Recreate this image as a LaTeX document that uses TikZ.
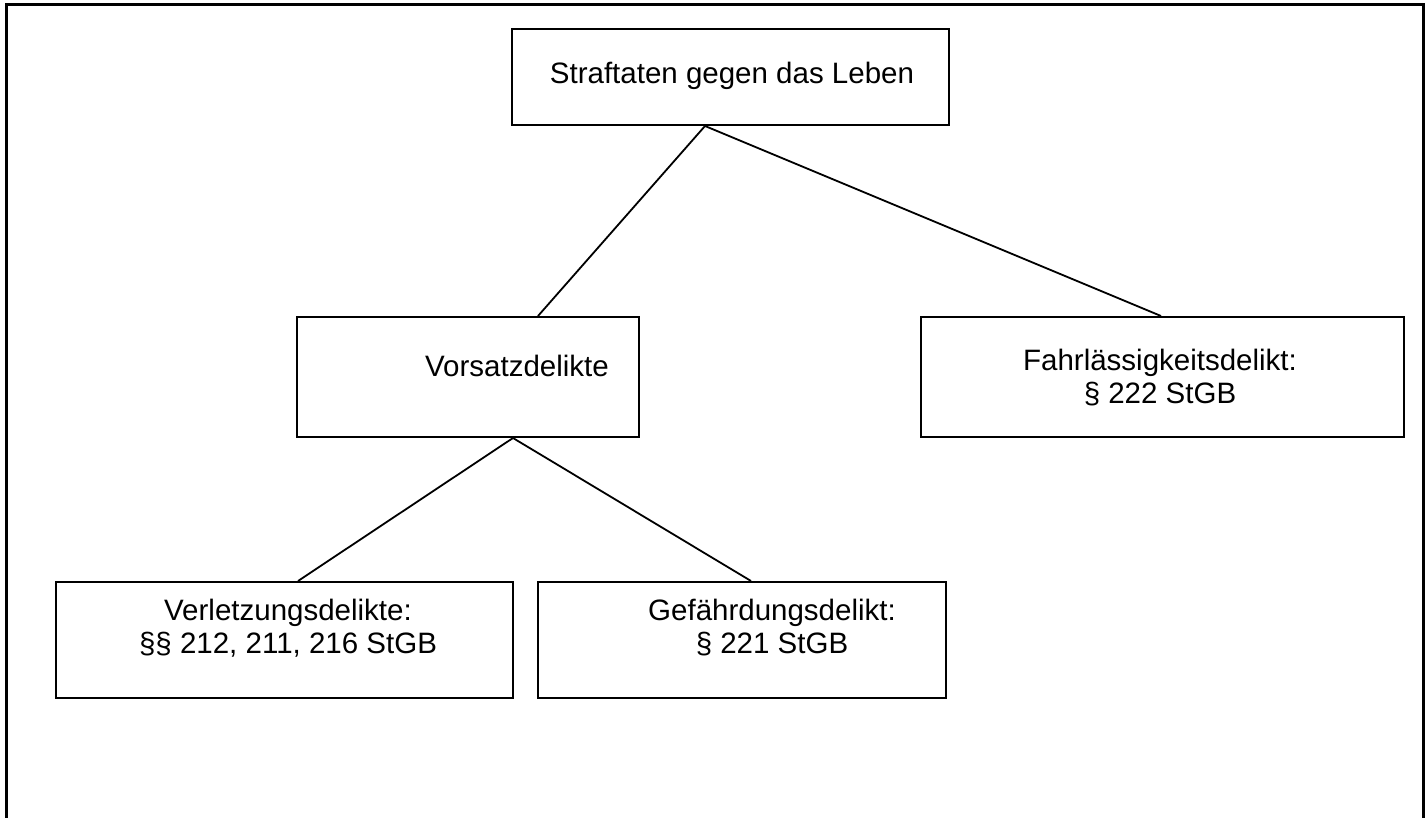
\documentclass[tikz,border=0pt]{standalone}
\usepackage{fontspec}
\setmainfont{Liberation Sans}
\begin{document}
\begin{tikzpicture}[x=1pt,y=-1pt,
  box/.style={draw, line width=2pt, inner sep=0pt, anchor=north west},
  lbl/.style={font=\fontsize{29.5}{33}\selectfont, align=center, inner sep=0pt},
  conn/.style={line width=1.8pt}]
\useasboundingbox (0,0) rectangle (1426,818);
\fill[white] (0,0) rectangle (1426,818);
\draw[line width=3pt] (6,830) -- (6,5) -- (1423,5) -- (1423,830);
% boxes
\node[box, minimum width=437pt, minimum height=96pt] (top) at (511,28) {};
\node[box, minimum width=342pt, minimum height=120pt] (vors) at (296,316) {};
\node[box, minimum width=483pt, minimum height=120pt] (fahr) at (920,316) {};
\node[box, minimum width=457pt, minimum height=116pt] (verl) at (55,581) {};
\node[box, minimum width=408pt, minimum height=116pt] (gef) at (537,581) {};
% texts
\node[lbl] (topT) at (732,76) {Straftaten gegen das Leben};
\node[lbl] (vorsT) at (517,366) {Vorsatzdelikte};
\node[lbl] (fahrT) at (1160,378) {Fahrlässigkeitsdelikt:\\ § 222 StGB};
\node[lbl] (verlT) at (288,628) {Verletzungsdelikte:\\ §§ 212, 211, 216 StGB};
\node[lbl] (gefT) at (772,628) {Gefährdungsdelikt:\\ § 221 StGB};
% connectors
\draw[conn] ([xshift=-25.5pt]top.south) -- ([xshift=70pt]vors.north);
\draw[conn] ([xshift=-25.5pt]top.south) -- ([xshift=-1.5pt]fahr.north);
\draw[conn] ([xshift=45pt]vors.south) -- ([xshift=13.5pt]verl.north);
\draw[conn] ([xshift=45pt]vors.south) -- ([xshift=9pt]gef.north);
\end{tikzpicture}
\end{document}
